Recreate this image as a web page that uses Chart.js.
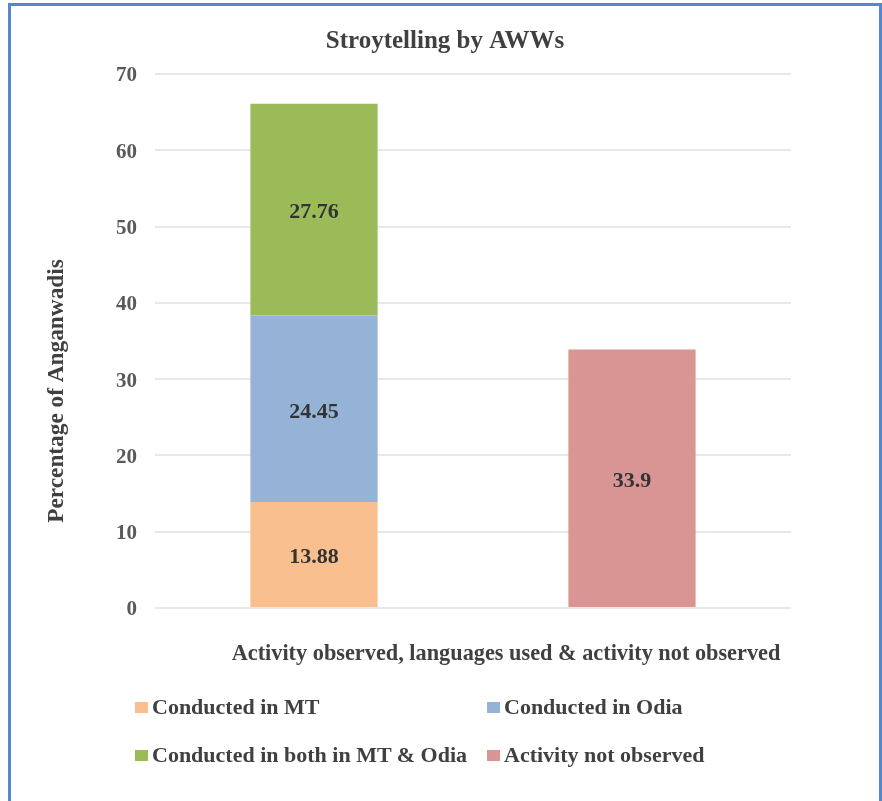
<!DOCTYPE html>
<html>
<head>
<meta charset="utf-8">
<script src="https://cdn.jsdelivr.net/npm/chart.js@4.4.1/dist/chart.umd.min.js"></script>
<style>
  html, body { margin: 0; padding: 0; background: #ffffff; width: 882px; height: 801px; overflow: hidden; }
  #wrap { position: relative; width: 882px; height: 801px; }
  #chart { position: absolute; left: 0; top: 0; }
  #frame { position: absolute; left: 8px; top: 3px; width: 874px; height: 820px; border: 3px solid #5686cb; box-sizing: border-box; pointer-events: none; }
  #legend { position: absolute; left: 0; top: 0; width: 882px; height: 801px; pointer-events: none; }
  .item { position: absolute; height: 26px; line-height: 26px; display: flex; align-items: center; white-space: nowrap;
          font: bold 22px "Liberation Serif", "Times New Roman", serif; color: #404040; }
  .box { width: 13px; height: 11px; margin-right: 4px; flex: none; }
</style>
</head>
<body>
<div id="wrap">
  <canvas id="chart" width="882" height="801"></canvas>
  <div id="legend"></div>
  <div id="frame"></div>
</div>
<script>
// ---- data ----
const categories = ['Activity observed', 'Activity not observed'];
const seriesNames = ['Conducted in MT', 'Conducted in Odia', 'Conducted in both in MT & Odia', 'Activity not observed'];
const conductedInMT = [13.88, null];
const conductedInOdia = [24.45, null];
const conductedInBoth = [27.76, null];
const activityNotObserved = [null, 33.9];
const yTickValues = [0, 10, 20, 30, 40, 50, 60, 70];
const chartTitle = 'Stroytelling by AWWs';
const xAxisTitle = 'Activity observed, languages used & activity not observed';
const yAxisTitle = 'Percentage of Anganwadis';

// ---- styles ----
const seriesColors = ['#F9BF8F', '#95B3D7', '#9BBB59', '#D99594'];
const FONT = '"Liberation Serif", "Times New Roman", serif';

const barLabels = {
  id: 'barLabels',
  afterDatasetsDraw(chart) {
    const ctx = chart.ctx;
    ctx.save();
    ctx.font = 'bold 22px ' + FONT;
    ctx.fillStyle = '#333333';
    ctx.textAlign = 'center';
    ctx.textBaseline = 'middle';
    chart.data.datasets.forEach((ds, i) => {
      const meta = chart.getDatasetMeta(i);
      meta.data.forEach((bar, j) => {
        const v = ds.data[j];
        if (v === null || v === undefined) return;
        const p = bar.getProps(['x', 'y', 'base'], true);
        ctx.fillText(String(v), p.x, (p.y + p.base) / 2 + 3);
      });
    });
    ctx.restore();
  }
};

const axisTitles = {
  id: 'axisTitles',
  afterDraw(chart) {
    const ctx = chart.ctx;
    const a = chart.chartArea;
    ctx.save();
    ctx.font = 'bold 22.3px ' + FONT;
    ctx.fillStyle = '#404040';
    ctx.textAlign = 'center';
    ctx.textBaseline = 'middle';
    ctx.fillText(xAxisTitle, a.left + 351, a.bottom + 46);
    ctx.translate(a.left - 98, a.bottom - 217);
    ctx.rotate(-Math.PI / 2);
    ctx.font = 'bold 23.3px ' + FONT;
    ctx.fillText(yAxisTitle, 0, 0);
    ctx.restore();
  }
};

const seriesData = [conductedInMT, conductedInOdia, conductedInBoth, activityNotObserved];

const chart = new Chart(document.getElementById('chart'), {
  type: 'bar',
  data: {
    labels: categories,
    datasets: seriesNames.map((name, i) => ({
      label: name,
      data: seriesData[i],
      backgroundColor: seriesColors[i],
      borderWidth: 0,
      categoryPercentage: 1.0,
      barPercentage: 0.4
    }))
  },
  options: {
    responsive: false,
    animation: false,
    devicePixelRatio: 1,
    layout: { padding: { left: 99, right: 91, top: 0, bottom: 173 } },
    plugins: {
      legend: { display: false },
      tooltip: { enabled: false },
      title: {
        display: true,
        text: chartTitle,
        color: '#404040',
        font: { family: FONT, size: 25, weight: 'bold', lineHeight: 1.2 },
        padding: { top: 27, bottom: 17 }
      }
    },
    scales: {
      x: {
        stacked: true,
        grid: { display: false, drawTicks: false },
        border: { display: false },
        ticks: { display: false },
        afterFit(scale) { scale.height = 20; }
      },
      y: {
        stacked: true,
        min: 0,
        max: 70,
        afterBuildTicks(scale) { scale.ticks = yTickValues.map(v => ({ value: v })); },
        grid: { color: '#e8e8e8', lineWidth: 2, drawTicks: false },
        border: { display: false },
        ticks: {
          padding: 18,
          labelOffset: 2,
          color: '#595959',
          font: { family: FONT, size: 21, weight: 'bold' }
        },
        afterFit(scale) { scale.width = 56; }
      }
    }
  },
  plugins: [barLabels, axisTitles]
});

// ---- legend built from chart datasets (two columns) ----
const legendCols = [135, 487];
const legendRows = [707, 755];
const legendEl = document.getElementById('legend');
chart.data.datasets.forEach((ds, i) => {
  const item = document.createElement('div');
  item.className = 'item';
  item.style.left = legendCols[i % 2] + 'px';
  item.style.top = (legendRows[Math.floor(i / 2)] - 13) + 'px';
  const box = document.createElement('span');
  box.className = 'box';
  box.style.background = ds.backgroundColor;
  const txt = document.createElement('span');
  txt.textContent = ds.label;
  item.appendChild(box);
  item.appendChild(txt);
  legendEl.appendChild(item);
});
</script>
</body>
</html>
